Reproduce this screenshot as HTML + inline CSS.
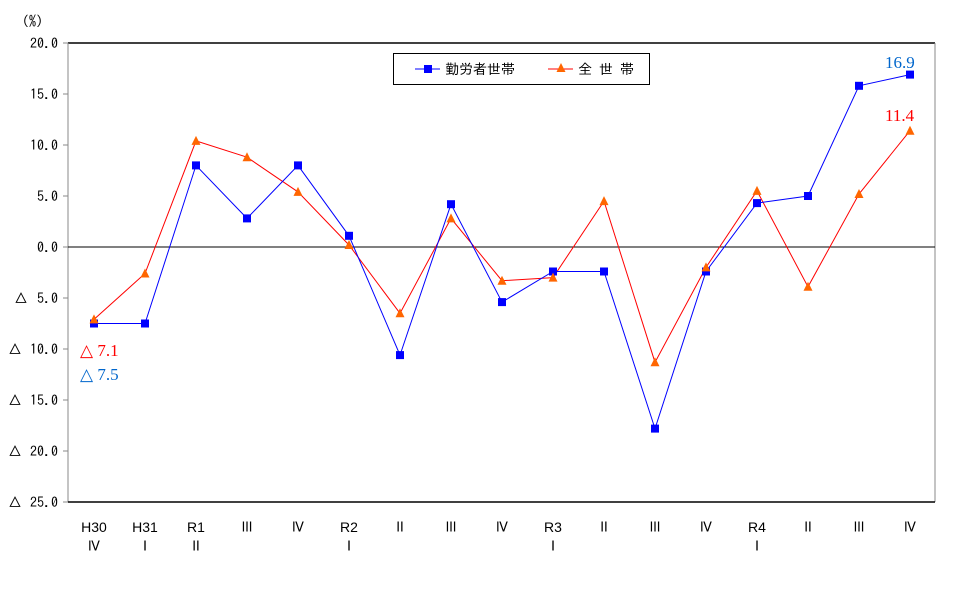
<!DOCTYPE html><html><head><meta charset="utf-8"><style>body{margin:0;background:#fff}svg{display:block}text{font-family:"IPAGothic","Noto Sans CJK JP",monospace;font-size:14px}.s{font-family:"Liberation Sans",sans-serif;font-size:14px}.a{font-family:"Liberation Serif",serif;font-size:17px}</style></head><body>
<svg width="979" height="612" xmlns="http://www.w3.org/2000/svg">
<text x="22" y="26">(%)</text>
<line x1="68" y1="43" x2="935" y2="43" stroke="#000" stroke-width="1.5"/>
<line x1="68" y1="43" x2="68" y2="502" stroke="#888"/>
<line x1="935" y1="43" x2="935" y2="502" stroke="#888"/>
<line x1="68" y1="502" x2="935" y2="502" stroke="#000" stroke-width="1.5"/>
<line x1="68" y1="247" x2="935" y2="247" stroke="#000"/>
<g stroke="#888"><line x1="63" y1="43" x2="68" y2="43"/><line x1="63" y1="94" x2="68" y2="94"/><line x1="63" y1="145" x2="68" y2="145"/><line x1="63" y1="196" x2="68" y2="196"/><line x1="63" y1="247" x2="68" y2="247"/><line x1="63" y1="298" x2="68" y2="298"/><line x1="63" y1="349" x2="68" y2="349"/><line x1="63" y1="400" x2="68" y2="400"/><line x1="63" y1="451" x2="68" y2="451"/><line x1="63" y1="502" x2="68" y2="502"/></g>
<g text-anchor="end"><text x="58" y="48">20.0</text><text x="58" y="99">15.0</text><text x="58" y="150">10.0</text><text x="58" y="201">5.0</text><text x="58" y="252">0.0</text><text x="58" y="303">5.0</text><text x="58" y="354">10.0</text><text x="58" y="405">15.0</text><text x="58" y="456">20.0</text><text x="58" y="507">25.0</text></g>
<g><text x="14" y="303">△</text><text x="8" y="354">△</text><text x="8" y="405">△</text><text x="8" y="456">△</text><text x="8" y="507">△</text></g>
<g text-anchor="middle"><text class="s" x="94" y="532">H30</text><text class="s" x="145" y="532">H31</text><text class="s" x="196" y="532">R1</text><text x="247" y="532">Ⅲ</text><text x="298" y="532">Ⅳ</text><text class="s" x="349" y="532">R2</text><text x="400" y="532">Ⅱ</text><text x="451" y="532">Ⅲ</text><text x="502" y="532">Ⅳ</text><text class="s" x="553" y="532">R3</text><text x="604" y="532">Ⅱ</text><text x="655" y="532">Ⅲ</text><text x="706" y="532">Ⅳ</text><text class="s" x="757" y="532">R4</text><text x="808" y="532">Ⅱ</text><text x="859" y="532">Ⅲ</text><text x="910" y="532">Ⅳ</text>
<text x="94" y="551">Ⅳ</text><text x="145" y="551">Ⅰ</text><text x="196" y="551">Ⅱ</text><text x="349" y="551">Ⅰ</text><text x="553" y="551">Ⅰ</text><text x="757" y="551">Ⅰ</text></g>
<polyline fill="none" stroke="#f00" points="94,319.4 145,273.5 196,140.9 247,157.2 298,191.9 349,245 400,313.3 451,218.4 502,280.7 553,277.6 604,201.1 655,362.3 706,267.4 757,190.9 808,286.8 859,194 910,130.7"/>
<polyline fill="none" stroke="#00f" points="94,323.5 145,323.5 196,165.4 247,218.4 298,165.4 349,235.8 400,355.1 451,204.2 502,302.1 553,271.5 604,271.5 655,428.6 706,271.5 757,203.1 808,196 859,85.8 910,74.6"/>
<g fill="#00f"><rect x="90" y="319.5" width="8" height="8"/><rect x="141" y="319.5" width="8" height="8"/><rect x="192" y="161.4" width="8" height="8"/><rect x="243" y="214.4" width="8" height="8"/><rect x="294" y="161.4" width="8" height="8"/><rect x="345" y="231.8" width="8" height="8"/><rect x="396" y="351.1" width="8" height="8"/><rect x="447" y="200.2" width="8" height="8"/><rect x="498" y="298.1" width="8" height="8"/><rect x="549" y="267.5" width="8" height="8"/><rect x="600" y="267.5" width="8" height="8"/><rect x="651" y="424.6" width="8" height="8"/><rect x="702" y="267.5" width="8" height="8"/><rect x="753" y="199.1" width="8" height="8"/><rect x="804" y="192" width="8" height="8"/><rect x="855" y="81.8" width="8" height="8"/><rect x="906" y="70.6" width="8" height="8"/></g>
<g fill="#f60">
<polygon points="94,314.4 89.5,323.4 98.5,323.4"/><polygon points="145,268.5 140.5,277.5 149.5,277.5"/><polygon points="196,135.9 191.5,144.9 200.5,144.9"/><polygon points="247,152.2 242.5,161.2 251.5,161.2"/><polygon points="298,186.9 293.5,195.9 302.5,195.9"/><polygon points="349,240 344.5,249 353.5,249"/><polygon points="400,308.3 395.5,317.3 404.5,317.3"/><polygon points="451,213.4 446.5,222.4 455.5,222.4"/><polygon points="502,275.7 497.5,284.7 506.5,284.7"/><polygon points="553,272.6 548.5,281.6 557.5,281.6"/><polygon points="604,196.1 599.5,205.1 608.5,205.1"/><polygon points="655,357.3 650.5,366.3 659.5,366.3"/><polygon points="706,262.4 701.5,271.4 710.5,271.4"/><polygon points="757,185.9 752.5,194.9 761.5,194.9"/><polygon points="808,281.8 803.5,290.8 812.5,290.8"/><polygon points="859,189 854.5,198 863.5,198"/><polygon points="910,125.7 905.5,134.7 914.5,134.7"/></g>
<rect x="393.5" y="53.5" width="256" height="31" fill="#fff" stroke="#000"/>
<line x1="415" y1="69" x2="440" y2="69" stroke="#00f"/><rect x="424" y="65" width="8" height="8" fill="#00f"/>
<text x="445" y="74">勤労者世帯</text>
<line x1="548" y1="69" x2="573" y2="69" stroke="#f00"/><polygon points="561,63 556.5,72 565.5,72" fill="#f60"/>
<text x="578" y="74">全 世 帯</text>
<text class="a" x="80" y="356" fill="#f00">△ 7.1</text>
<text class="a" x="80" y="380" fill="#06c">△ 7.5</text>
<text class="a" x="885" y="68" fill="#06c">16.9</text>
<text class="a" x="885" y="121" fill="#f00">11.4</text>
</svg></body></html>
